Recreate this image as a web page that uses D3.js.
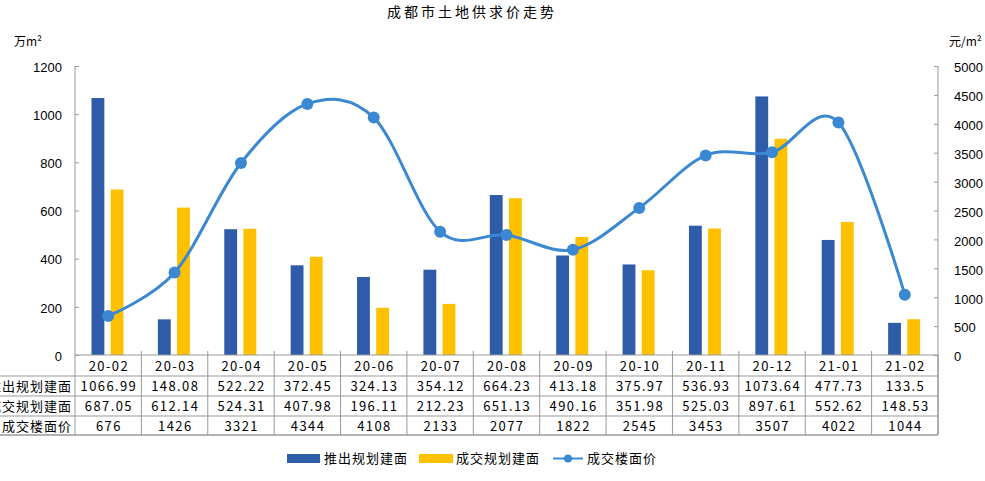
<!DOCTYPE html>
<html>
<head>
<meta charset="utf-8">
<script src="https://cdn.jsdelivr.net/npm/d3@7"></script>
<style>
  body { margin: 0; background: #fff; }
  text { font-family: "Liberation Sans", Arial, sans-serif; fill: #000; }
  .cjk { font-family: "Noto Sans CJK SC", sans-serif; }
</style>
</head>
<body>
<svg width="985" height="481"></svg>
<script>
var categories = ["20-02", "20-03", "20-04", "20-05", "20-06", "20-07", "20-08", "20-09", "20-10", "20-11", "20-12", "21-01", "21-02"];
var launched = [1066.99, 148.08, 522.22, 372.45, 324.13, 354.12, 664.23, 413.18, 375.97, 536.93, 1073.64, 477.73, 133.5];
var traded = [687.05, 612.14, 524.31, 407.98, 196.11, 212.23, 651.13, 490.16, 351.98, 525.03, 897.61, 552.62, 148.53];
var price = [676, 1426, 3321, 4344, 4108, 2133, 2077, 1822, 2545, 3453, 3507, 4022, 1044];
var seriesNames = ["推出规划建面", "成交规划建面", "成交楼面价"];
var leftTicks = [0, 200, 400, 600, 800, 1000, 1200];
var rightTicks = [0, 500, 1000, 1500, 2000, 2500, 3000, 3500, 4000, 4500, 5000];

var blue = "#2e5ca8", yellow = "#ffc000", lineColor = "#3b88d2", grey = "#999";

var plotLeft = 75, plotRight = 938, plotTop = 66, plotBottom = 355;

var svg = d3.select("svg");

var x = d3.scaleBand().domain(categories).range([plotLeft, plotRight]);
var sub = d3.scaleBand().domain(["a", "b"]).range([16.5, 48.5]).paddingInner(0.33);
var yL = d3.scaleLinear().domain([0, 1200]).range([plotBottom, plotTop]);
var yR = d3.scaleLinear().domain([0, 5000]).range([plotBottom, plotTop]);

//Title
svg.append("text")
  .attr("class", "cjk")
  .attr("x", 472)
  .attr("y", 17)
  .attr("text-anchor", "middle")
  .style("font-size", "14px")
  .style("letter-spacing", "3px")
  .text("成都市土地供求价走势");

//Unit labels
svg.append("text").attr("class", "cjk")
  .attr("x", 14).attr("y", 46)
  .style("font-size", "12px")
  .text("万m²");
svg.append("text").attr("class", "cjk")
  .attr("x", 949).attr("y", 46)
  .style("font-size", "12px")
  .text("元/m²");

//Axes
var leftAxis = d3.axisLeft(yL).tickValues(leftTicks).tickFormat(d3.format("d")).tickSize(-4).tickPadding(13);
var gL = svg.append("g").attr("transform", "translate(" + plotLeft + ",0)").call(leftAxis);
var rightAxis = d3.axisRight(yR).tickValues(rightTicks).tickFormat(d3.format("d")).tickSize(-4).tickPadding(16);
var gR = svg.append("g").attr("transform", "translate(" + plotRight + ",0)").call(rightAxis);
[gL, gR].forEach(function(g) {
  g.select(".domain").attr("stroke", grey).attr("d", "M0," + plotTop + "V" + plotBottom);
  g.selectAll(".tick line").attr("stroke", grey);
  g.selectAll(".tick text")
    .style("font-family", "'Liberation Sans', Arial, sans-serif")
    .style("font-size", "13px")
    .attr("fill", "#000");
});
gL.selectAll(".tick text").attr("dy", "0.4em");
gR.selectAll(".tick text").attr("dy", "0.45em");

//Category ticks on x axis
svg.append("g").selectAll("line")
  .data(categories.slice(1))
  .enter()
  .append("line")
  .attr("x1", function(d) { return x(d); })
  .attr("x2", function(d) { return x(d); })
  .attr("y1", plotBottom - 4)
  .attr("y2", plotBottom)
  .attr("stroke", grey);

//Bars
svg.append("g").selectAll("rect")
  .data(launched)
  .enter()
  .append("rect")
  .attr("x", function(d, i) { return x(categories[i]) + sub("a"); })
  .attr("y", function(d) { return yL(d); })
  .attr("width", sub.bandwidth())
  .attr("height", function(d) { return plotBottom - yL(d); })
  .attr("fill", blue);

svg.append("g").selectAll("rect")
  .data(traded)
  .enter()
  .append("rect")
  .attr("x", function(d, i) { return x(categories[i]) + sub("b"); })
  .attr("y", function(d) { return yL(d); })
  .attr("width", sub.bandwidth())
  .attr("height", function(d) { return plotBottom - yL(d); })
  .attr("fill", yellow);

//Price line (smoothed)
var line = d3.line()
  .x(function(d, i) { return x(categories[i]) + x.bandwidth() / 2; })
  .y(function(d) { return yR(d); })
  .curve(d3.curveCatmullRom.alpha(0));

svg.append("path")
  .datum(price)
  .attr("d", line)
  .attr("fill", "none")
  .attr("stroke", lineColor)
  .attr("stroke-width", 3);

svg.append("g").selectAll("circle")
  .data(price)
  .enter()
  .append("circle")
  .attr("cx", function(d, i) { return x(categories[i]) + x.bandwidth() / 2; })
  .attr("cy", function(d) { return yR(d); })
  .attr("r", 6)
  .attr("fill", lineColor);

//Data table
var rowH = [plotBottom, 376, 396, 416, 435];
var table = svg.append("g");
rowH.forEach(function(yy, i) {
  table.append("line")
    .attr("x1", i == 0 ? plotLeft : 0).attr("x2", plotRight)
    .attr("y1", yy).attr("y2", yy)
    .attr("stroke", grey)
    .attr("stroke-width", i == rowH.length - 1 ? 1.6 : 1);
});
table.selectAll(".vline")
  .data(categories.concat(["end"]))
  .enter()
  .append("line")
  .attr("x1", function(d, i) { return plotLeft + i * x.step(); })
  .attr("x2", function(d, i) { return plotLeft + i * x.step(); })
  .attr("y1", plotBottom)
  .attr("y2", rowH[4])
  .attr("stroke", grey)
  .attr("stroke-width", function(d, i) { return i == categories.length ? 1.6 : 1; });

var rows = [categories, launched, traded, price];
rows.forEach(function(row, r) {
  table.selectAll(".r" + r)
    .data(row)
    .enter()
    .append("text")
    .attr("class", "cjk")
    .attr("x", function(d, i) { return x(categories[i]) + x.bandwidth() / 2 + 0.7; })
    .attr("y", (rowH[r] + rowH[r + 1]) / 2 + 5)
    .attr("text-anchor", "middle")
    .style("font-size", "13px")
    .style("letter-spacing", "1.4px")
    .text(function(d) { return String(d); });
  if (r > 0) {
    table.append("text")
      .attr("class", "cjk")
      .attr("x", plotLeft - 3)
      .attr("y", (rowH[r] + rowH[r + 1]) / 2 + 5)
      .attr("text-anchor", "end")
      .style("font-size", "13px")
      .style("letter-spacing", "1px")
      .text(seriesNames[r - 1]);
  }
});

//Legend
var legend = svg.append("g");
legend.append("rect").attr("x", 287).attr("y", 454).attr("width", 33).attr("height", 9).attr("fill", blue);
legend.append("text").attr("class", "cjk").attr("x", 324).attr("y", 463)
  .style("font-size", "13px").style("letter-spacing", "1px").text(seriesNames[0]);
legend.append("rect").attr("x", 419).attr("y", 454).attr("width", 34).attr("height", 9).attr("fill", yellow);
legend.append("text").attr("class", "cjk").attr("x", 456).attr("y", 463)
  .style("font-size", "13px").style("letter-spacing", "1px").text(seriesNames[1]);
legend.append("line").attr("x1", 553).attr("x2", 583).attr("y1", 458.5).attr("y2", 458.5)
  .attr("stroke", lineColor).attr("stroke-width", 2);
legend.append("circle").attr("cx", 568).attr("cy", 458.5).attr("r", 4).attr("fill", lineColor);
legend.append("text").attr("class", "cjk").attr("x", 587).attr("y", 463)
  .style("font-size", "13px").style("letter-spacing", "1px").text(seriesNames[2]);
</script>
</body>
</html>
